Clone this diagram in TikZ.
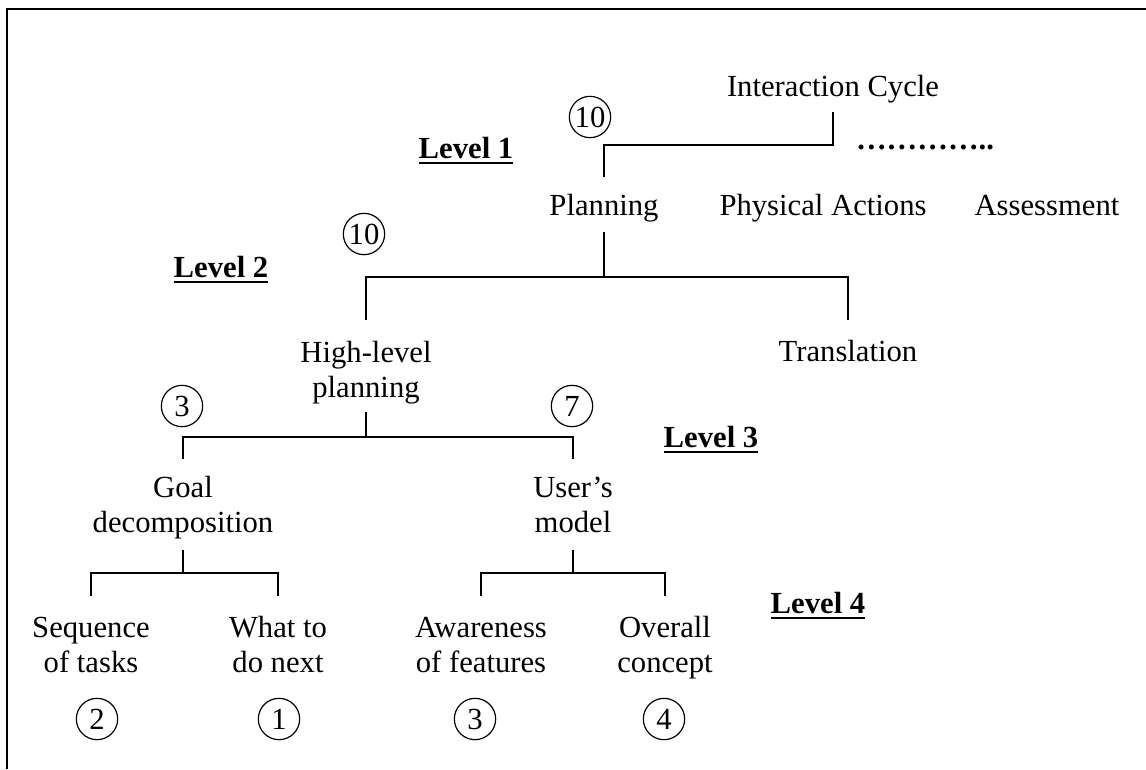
\documentclass[tikz,border=0pt]{standalone}
\usepackage{fontspec}
\setmainfont{Liberation Serif}
\usetikzlibrary{calc}
\begin{document}
\begin{tikzpicture}[x=0.75pt,y=-0.75pt,
  every node/.style={inner sep=0pt, outer sep=0pt, font=\fontsize{23}{26.25}\selectfont},
  lbl/.style={anchor=base, align=center},
  lvl/.style={anchor=base, font=\fontsize{23}{26.25}\selectfont\bfseries},
  num/.style={circle, draw, line width=0.9pt, minimum size=31pt},
  conn/.style={line width=1pt},
  ul/.style={line width=1.5pt},
  frame/.style={line width=1.5pt}]
\useasboundingbox (0,0) rectangle (1146,769);
\draw[frame] (1146,9) -- (7,9) -- (7,769);

% level labels
\node[lvl] (lv1) at (466,158) {Level 1};
\node[lvl] (lv2) at (221,277) {Level 2};
\node[lvl] (lv3) at (711,447) {Level 3};
\node[lvl] (lv4) at (818,613) {Level 4};
\foreach \n in {lv1,lv2,lv3,lv4}
  \draw[ul] ($(\n.base west)+(0,5)$) -- ($(\n.base east)+(0,5)$);

% level 1
\node[lbl] (ic) at (833,96) {Interaction Cycle};
\node[num] (n10a) at (590,117) {10};
\node[lbl, font=\fontsize{23}{26.25}\selectfont\bfseries] (dots) at (925,149) {…………..};
\node[lbl] (plan) at (604,215) {Planning};
\node[lbl] (phys) at (823,215) {Physical Actions};
\node[lbl] (asse) at (1047,215) {Assessment};

% level 2 (multi-line labels sit on the baseline of their last line)
\node[num] (n10b) at (364,234) {10};
\node[lbl] (hlp) at (366,397) {High-level\\planning};
\node[lbl] (tran) at (848,361) {Translation};

% level 3
\node[num] (n3a) at (182,406) {3};
\node[num] (n7) at (572,406) {7};
\node[lbl] (goal) at (183,532) {Goal\\decomposition};
\node[lbl] (user) at (573,532) {User’s\\model};

% level 4
\node[lbl] (seq) at (91,672) {Sequence\\of tasks};
\node[lbl] (what) at (278,672) {What to\\do next};
\node[lbl] (awar) at (481,672) {Awareness\\of features};
\node[lbl] (over) at (665,672) {Overall\\concept};
\node[num] (n2) at (97,719) {2};
\node[num] (n1) at (279,719) {1};
\node[num] (n3b) at (475,719) {3};
\node[num] (n4) at (664,719) {4};

% tree connectors
\draw[conn] ($(ic.base)+(0,16)$) -- ++(0,33) -| ($(plan.base)+(0,-38)$);
\draw[conn] ($(plan.base)+(0,17)$) -- ++(0,45);
\draw[conn] ($(hlp.base)+(0,-77)$) -- ++(0,-43) -| ($(tran.base)+(0,-41)$);
\draw[conn] ($(hlp.base)+(0,15)$) -- ++(0,25);
\draw[conn] ($(goal.base)+(0,-73)$) -- ++(0,-22) -| ($(user.base)+(0,-73)$);
\draw[conn] ($(goal.base)+(0,18)$) -- ++(0,23);
\draw[conn] ($(seq.base)+(0,-76)$) -- ++(0,-23) -| ($(what.base)+(0,-76)$);
\draw[conn] ($(user.base)+(0,18)$) -- ++(0,23);
\draw[conn] ($(awar.base)+(0,-76)$) -- ++(0,-23) -| ($(over.base)+(0,-76)$);
\end{tikzpicture}
\end{document}
